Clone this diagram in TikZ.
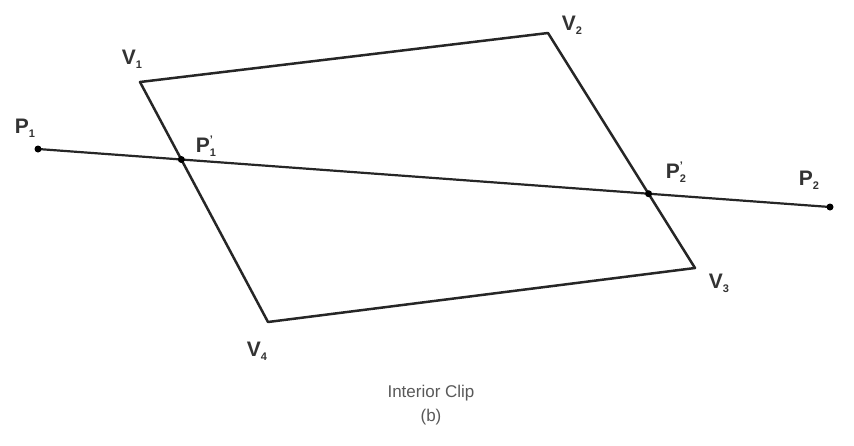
\documentclass[tikz,border=0pt]{standalone}
\usepackage{fontspec}
\setmainfont{Liberation Sans}
\begin{document}
\begin{tikzpicture}[x=1pt,y=-1pt,
  edge/.style={draw=black!85,line width=2.5pt,line cap=round,line join=round},
  lbl/.style={text=black!80,font=\fontsize{21}{24}\selectfont\bfseries,inner sep=0pt},
  captext/.style={text=black!65,font=\fontsize{17}{20}\selectfont,inner sep=0pt},
  pt/.style={circle,fill=black,inner sep=0pt,minimum size=7pt}]
\useasboundingbox (0,0) rectangle (854,445);
\coordinate (V1) at (140,82);
\coordinate (V2) at (548,33);
\coordinate (V3) at (695,268);
\coordinate (V4) at (268,322);
\coordinate (P1) at (38,149);
\coordinate (P2) at (830,207);
\coordinate (Q1) at (intersection of P1--P2 and V1--V4);
\coordinate (Q2) at (intersection of P1--P2 and V2--V3);
\draw[edge] (V1) -- (V2) -- (V3) -- (V4) -- cycle;
\draw[edge,line width=2.2pt] (P1) -- (P2);
\node[pt] (d1) at (P1) {};
\node[pt] (d2) at (P2) {};
\node[pt] (d3) at (Q1) {};
\node[pt] (d4) at (Q2) {};
\newcommand{\labsub}[1]{\raisebox{-0.35ex}{\fontsize{11}{13}\selectfont #1}}
\newcommand{\labprime}[1]{\makebox[0pt][l]{\raisebox{0.8ex}{\fontsize{11}{13}\selectfont '}}\raisebox{-0.35ex}{\fontsize{11}{13}\selectfont #1}}
\node[lbl] (lV1) at (132,59) {V\labsub{1}};
\node[lbl] (lV2) at (572,25) {V\labsub{2}};
\node[lbl] (lV3) at (719,283) {V\labsub{3}};
\node[lbl] (lV4) at (257,351) {V\labsub{4}};
\node[lbl] (lP1) at (25,128) {P\labsub{1}};
\node[lbl] (lP2) at (809,180) {P\labsub{2}};
\node[lbl] (lQ1) at (206,146) {P\labprime{1}};
\node[lbl] (lQ2) at (676,172) {P\labprime{2}};
\node[captext] (c1) at (431,393) {Interior Clip};
\node[captext] (c2) at (431,417) {(b)};
\end{tikzpicture}
\end{document}
